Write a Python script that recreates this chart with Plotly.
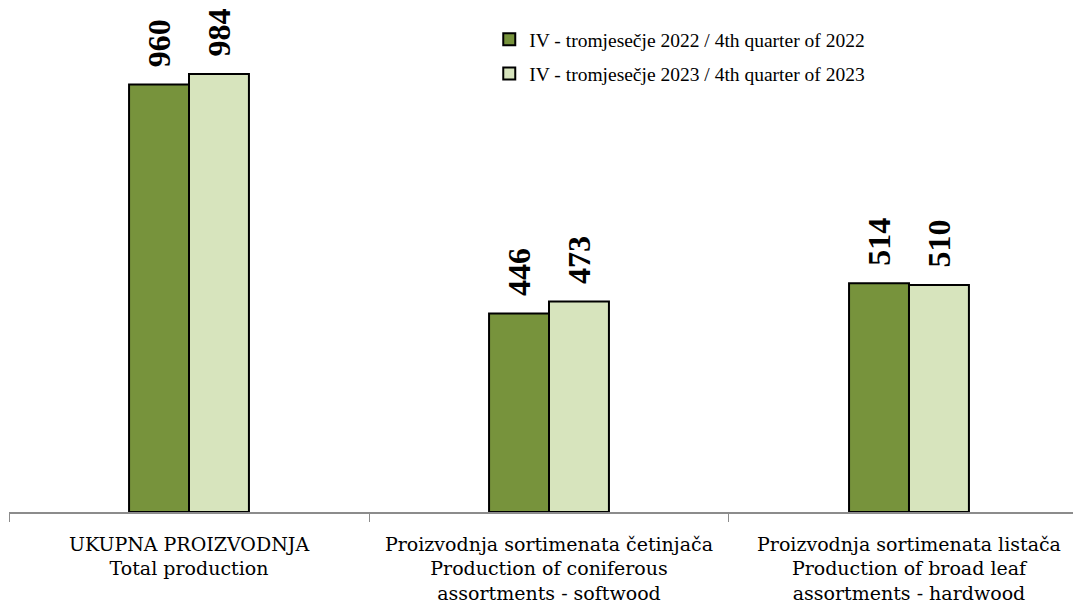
import plotly.graph_objects as go

categories = [
    "UKUPNA PROIZVODNJA<br>Total production",
    "Proizvodnja sortimenata četinjača<br>Production of coniferous<br>assortments - softwood",
    "Proizvodnja sortimenata listača<br>Production of broad leaf<br>assortments - hardwood",
]
series_names = [
    "IV - tromjesečje 2022 / 4th quarter of 2022",
    "IV - tromjesečje 2023 / 4th quarter of 2023",
]
values_2022 = [960, 446, 514]
values_2023 = [984, 473, 510]
colors = ["#77933C", "#D7E4BD"]

fig = go.Figure()
for i, (name, vals, col) in enumerate(zip(series_names, [values_2022, values_2023], colors)):
    fig.add_trace(go.Bar(
        x=categories, y=vals, name=name, legendgroup=f"g{i}",
        marker=dict(color=col, line=dict(color="#000000", width=2)),
        text=vals, texttemplate="\u00a0\u202f%{text}", textposition="outside", textangle=-90,
        constraintext="none", cliponaxis=False,
        textfont=dict(family="Liberation Serif", size=32, color="#000000", weight="bold"),
    ))

fig.update_layout(
    width=1073, height=600,
    margin=dict(l=1, r=0, t=12, b=96),
    paper_bgcolor="white", plot_bgcolor="white",
    barmode="group", bargap=0.667, bargroupgap=0.0,
    showlegend=True,
    legend=dict(x=0.448, y=1.0, xanchor="left", yanchor="top",
                font=dict(family="Liberation Serif", size=19.5, color="#000000"),
                bgcolor="rgba(0,0,0,0)", traceorder="grouped", tracegroupgap=6),
    xaxis=dict(showline=True, linecolor="#8C8C8C", linewidth=1.5,
               range=[-0.5, 2.4778],
               ticks="outside", tickson="boundaries", ticklen=8, tickcolor="#8C8C8C",
               tickfont=dict(family="DejaVu Serif", size=19, color="#000000"),
               ticklabelstandoff=14, showgrid=False),
    yaxis=dict(range=[0, 1105], visible=False, showgrid=False),
)

fig.write_html("out.html")
